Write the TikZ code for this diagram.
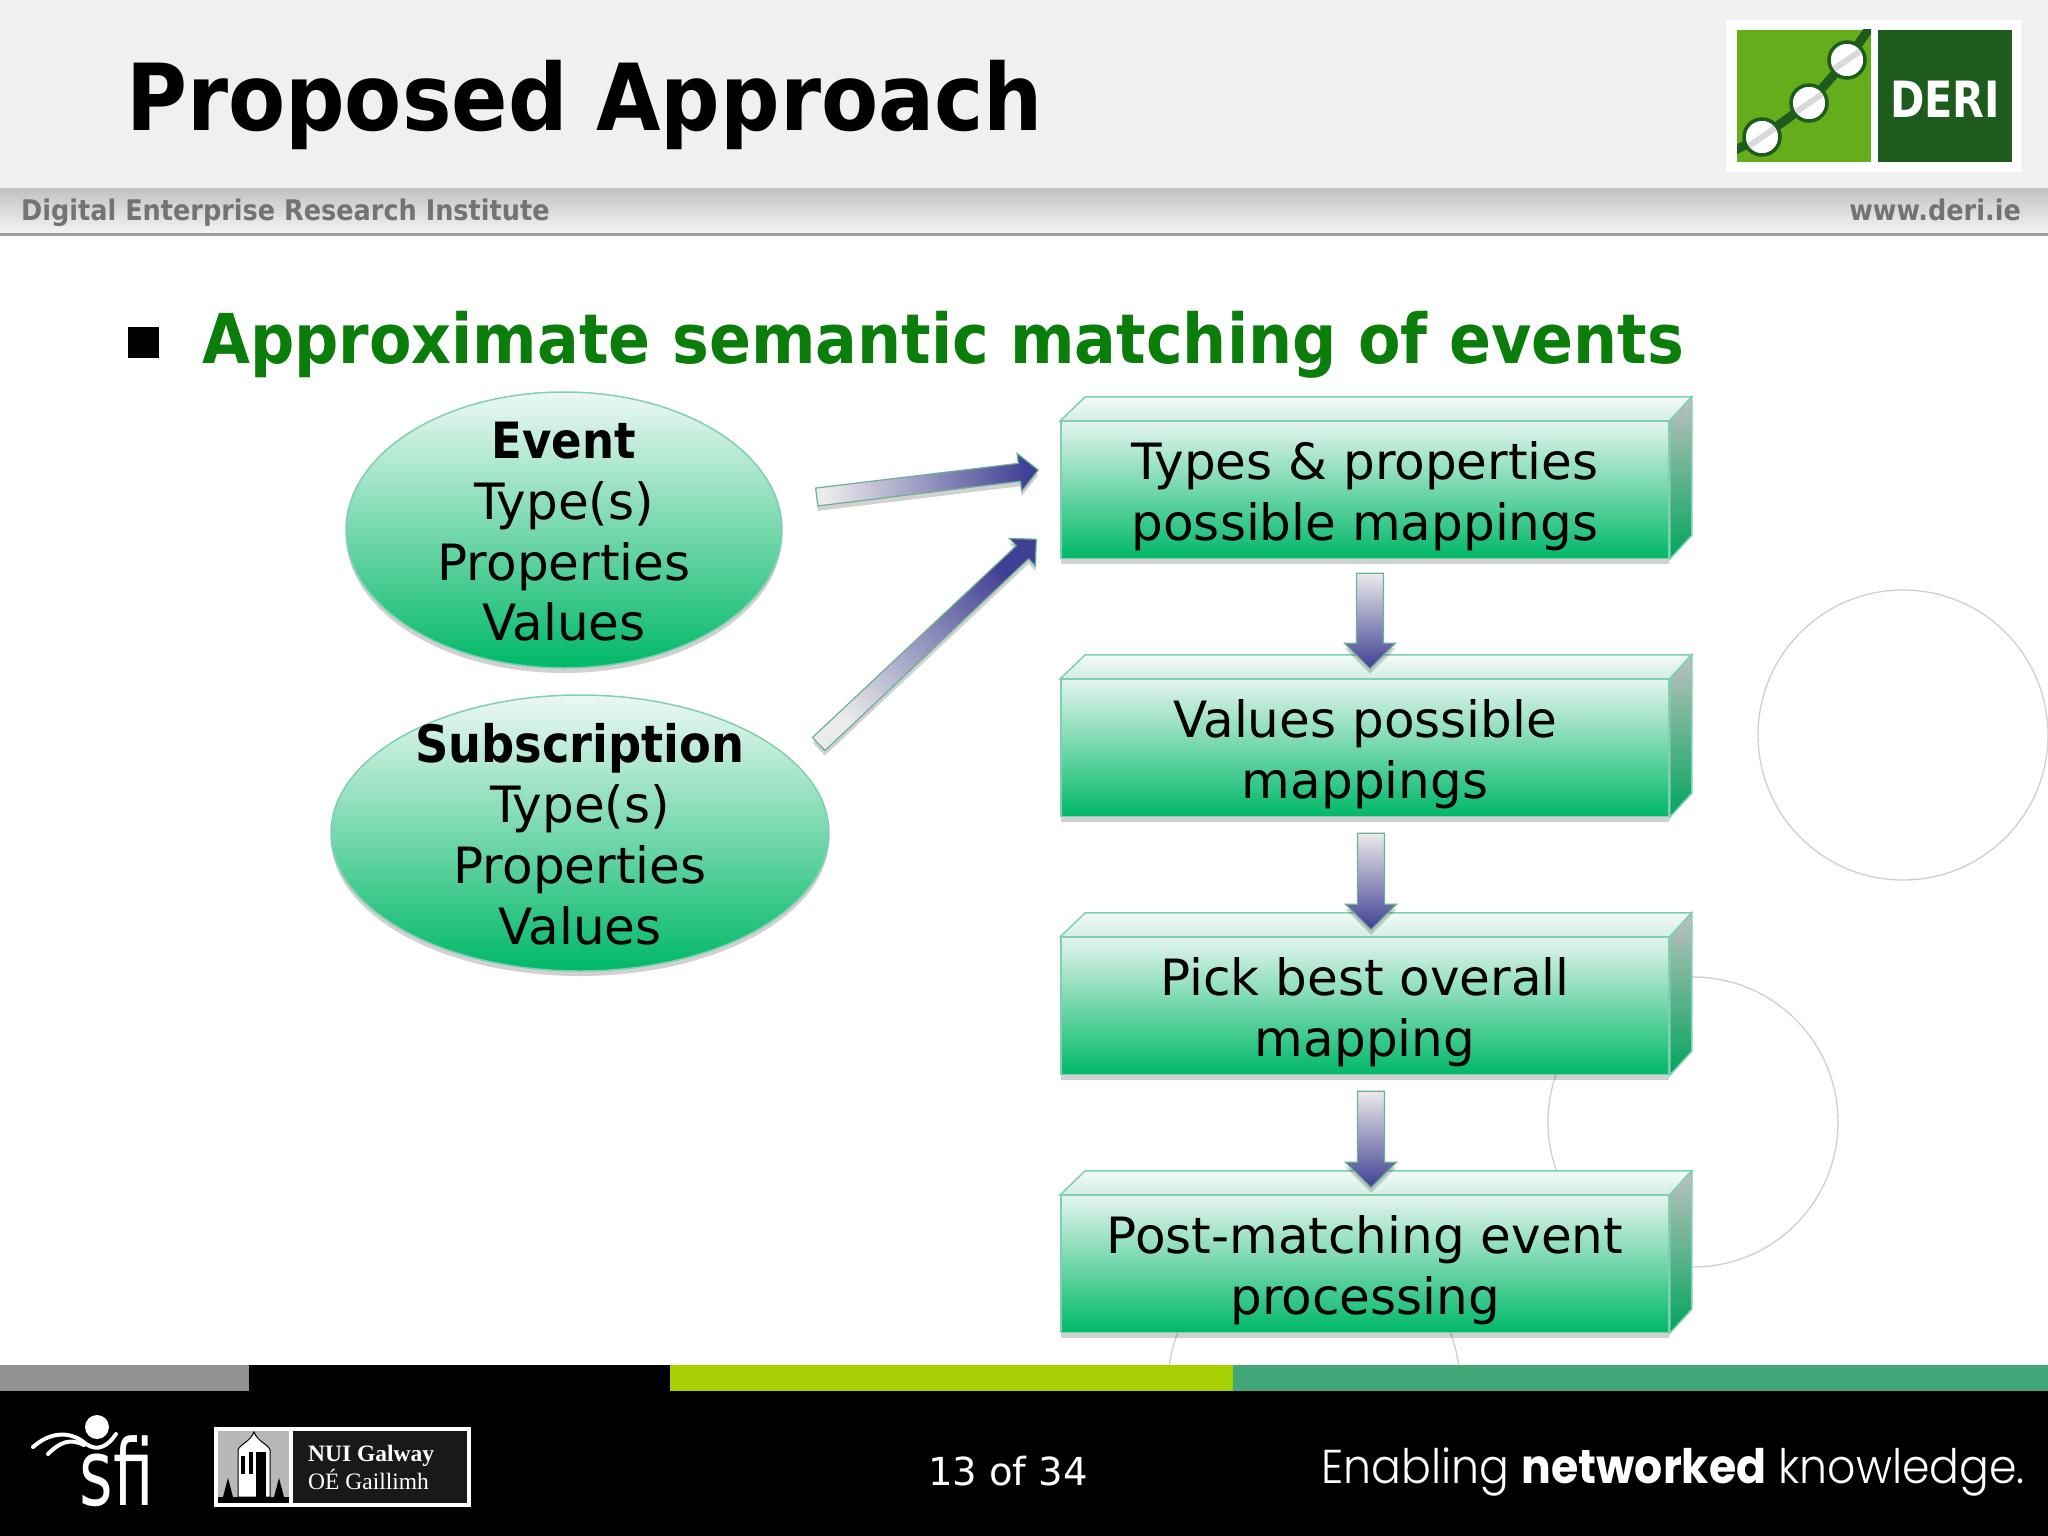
\documentclass[tikz,border=0pt]{standalone}
\usepackage{fontspec}
\setmainfont{DejaVu Sans Condensed}
\newfontfamily\bodyname{DejaVu Sans}
\newfontfamily\serifname{Liberation Serif}
\newfontfamily\futura[BoldFont={Poppins Bold}, FakeStretch=.93]{Poppins Light}
\usetikzlibrary{calc, shapes.geometric, shadows}

\definecolor{edgegreen}{HTML}{7FD0B0}
\definecolor{midgreen}{HTML}{6CCBA0}
\definecolor{darkgreen}{HTML}{00B868}
\definecolor{headgreen}{HTML}{0A7D0A}
\definecolor{navy}{HTML}{3F3F94}
\definecolor{ringgray}{HTML}{CFCFCF}
\definecolor{logolime}{RGB}{102,173,28}
\definecolor{logodark}{RGB}{30,92,30}
\definecolor{barlime}{RGB}{168,208,0}
\definecolor{barteal}{RGB}{65,167,120}

\tikzset{
  softshadow/.style={drop shadow={shadow xshift=0pt, shadow yshift=-5pt, opacity=.18, fill=black}},
  stepbox/.style={rectangle, draw=edgegreen, line width=1.5pt, minimum width=608pt, minimum height=137pt, inner sep=0pt,
    top color=white!78!edgegreen, middle color=midgreen, bottom color=darkgreen, softshadow},
  steptext/.style={align=center, inner sep=0pt, font=\fontsize{50}{60.5}\selectfont\bodyname},
  inputblob/.style={ellipse, draw=edgegreen, line width=1.5pt, inner sep=0pt, minimum height=276pt,
    top color=white!85!edgegreen, middle color=midgreen!90!white, bottom color=darkgreen, softshadow},
  blobtext/.style={align=center, inner sep=0pt, font=\fontsize{50}{60.7}\selectfont\bodyname},
  topface/.style={draw=edgegreen, line width=1.5pt, top color=white!90!edgegreen, bottom color=white!65!edgegreen},
  sideface/.style={draw=edgegreen, line width=1.5pt, top color=black!25!white, bottom color=darkgreen!90!black},
  fatarrow/.style={draw=edgegreen!85!black, line width=1.2pt, top color=black!8!white, bottom color=navy, softshadow},
  ring/.style={draw=ringgray, line width=1.3pt}
}

% from, to, shading angle, half shaft, head size
\newcommand{\fatarrow}[5]{
  \coordinate (neck) at ($(#2)!#5pt!(#1)$);
  \path[fatarrow, shading angle=#3] ($(#1)!#4pt!90:(neck)$) -- ($(neck)!#4pt!-90:(#1)$) -- ($(neck)!#5pt!-90:(#1)$) -- (#2)
    -- ($(neck)!#5pt!90:(#1)$) -- ($(neck)!#4pt!90:(#1)$) -- ($(#1)!#4pt!-90:(neck)$) -- cycle;
}
% box with top and side faces
\newcommand{\bevelbox}[3]{
  \node[stepbox] (#1) at (#2) {};
  \path[topface] (#1.north west) -- ++(25,-24) -- ($(#1.north east)+(22,-24)$) -- (#1.north east) -- cycle;
  \path[sideface] (#1.north east) -- ++(22,-24) -- ($(#1.south east)+(22,-24)$) -- (#1.south east) -- cycle;
  \node[steptext] (#1text) at ($(#1)+(0,6)$) {#3};
}

\begin{document}
\begin{tikzpicture}[x=1pt, y=-1pt]
  \useasboundingbox (0,0) rectangle (2048,1536);
  \fill[white] (0,0) rectangle (2048,1536);

  % header
  \fill[black!6] (0,0) rectangle (2048,188);
  \shade[top color=black!24, bottom color=black!5] (0,188) rectangle (2048,232);
  \fill[black!38] (0,233) rectangle (2048,236);
  \node[anchor=base west, inner sep=0pt, font=\fontsize{92.5}{92.5}\selectfont\bfseries] (title) at (126,131) {Proposed Approach};
  \node[anchor=base west, inner sep=0pt, text=black!55, font=\fontsize{28.4}{28.4}\selectfont\bfseries] (institute) at (21,220) {Digital Enterprise Research Institute};
  \node[anchor=base east, inner sep=0pt, text=black!55, font=\fontsize{28.4}{28.4}\selectfont\bfseries] (website) at (2021,220) {www.deri.ie};

  % logo
  \fill[white] (1726,20) rectangle (2021,172);
  \fill[logolime] (1737,30) rectangle (1871,162);
  \fill[logodark] (1878,30) rectangle (2012,162);
  \begin{scope}
    \clip (1737,30) rectangle (1871,162);
    \draw[logodark, line width=9pt] (1735,150) -- (1762,137) -- (1809,103) -- (1847,60) -- (1871,26);
  \end{scope}
  \foreach \cx/\cy in {1762/137, 1809/103, 1847/60}{
    \fill[white, draw=logodark, line width=3.5pt] (\cx,\cy) circle (18);
    \draw[black!15, line width=6pt] (\cx-13,\cy+9) -- (\cx+13,\cy-9);
  }
  \node[text=white, inner sep=0pt, font=\fontsize{50}{50}\selectfont\bfseries] (deri) at (1945,99) {\scalebox{.92}[1]{DERI}};

  % rings behind the boxes
  \draw[ring] (1903,735) circle (145);
  \draw[ring] (1693,1122) circle (145);
  \begin{scope}
    \clip (1100,1200) rectangle (1500,1365);
    \draw[ring] (1314,1385) circle (146);
  \end{scope}

  % heading
  \fill[black] (128,327) rectangle (159,358);
  \node[anchor=base west, inner sep=0pt, text=headgreen, font=\fontsize{68.8}{68.8}\selectfont\bfseries] (heading) at (202,363) {Approximate semantic matching of events};

  % inputs
  \node[inputblob, minimum width=436pt] (event) at (564,530) {};
  \node[blobtext] (eventtext) at ($(event)+(0,2)$) {{\rmfamily\bfseries Event}\\Type(s)\\Properties\\Values};
  \node[inputblob, minimum width=498pt] (subscr) at (580,833) {};
  \node[blobtext] (subscrtext) at ($(subscr)+(0,1)$) {{\rmfamily\bfseries\fontsize{51.5}{60.7}\selectfont Subscription}\\Type(s)\\Properties\\Values};

  % steps
  \bevelbox{types}{1365,490}{Types \& properties\\possible mappings}
  \bevelbox{valmap}{1365,748}{Values possible\\mappings}
  \bevelbox{pick}{1365,1006}{Pick best overall\\mapping}
  \bevelbox{post}{1365,1264}{Post-matching event\\processing}

  % arrows
  \coordinate (eventOut) at ($(event.east)+(34,-33)$);
  \coordinate (typesIn) at ($(types.west)+(-22,-20)$);
  \coordinate (subscrOut) at ($(subscr.east)+(-11,-89)$);
  \coordinate (typesLow) at ($(types.south west)+(-24,-20)$);
  \fatarrow{eventOut}{typesIn}{97}{9}{19}
  \fatarrow{subscrOut}{typesLow}{135}{9}{19}
  \coordinate (t1) at ($(types.south)+(5,14)$);
  \coordinate (v1) at ($(valmap.north)+(5,-10)$);
  \coordinate (v2) at ($(valmap.south)+(6,16)$);
  \coordinate (p1) at ($(pick.north)+(6,-7)$);
  \coordinate (p2) at ($(pick.south)+(6,16)$);
  \coordinate (q1) at ($(post.north)+(6,-7)$);
  \fatarrow{t1}{v1}{0}{13.5}{25.5}
  \fatarrow{v2}{p1}{0}{13.5}{25.5}
  \fatarrow{p2}{q1}{0}{13.5}{25.5}

  % footer
  \fill[black] (0,1365) rectangle (2048,1536);
  \fill[black!43] (0,1365) rectangle (249,1391);
  \fill[barlime] (670,1365) rectangle (1233,1391);
  \fill[barteal] (1233,1365) rectangle (2048,1391);
  \node[anchor=base, inner sep=0pt, text=white, font=\fontsize{38.6}{38.6}\selectfont\bodyname] (pagenum) at (1008,1485) {13 of 34};
  \node[anchor=base east, inner sep=0pt, text=white, font=\fontsize{47.5}{47.5}\selectfont\futura] (slogan) at (2025,1483) {Enabling \textbf{networked} knowledge.};

  % sfi
  \fill[white] (97,1427) circle (12);
  \draw[white, line width=4pt, line cap=round] (33,1447) .. controls (50,1432) and (70,1430) .. (86,1444) .. controls (98,1452) and (108,1446) .. (116,1434);
  \draw[white, line width=4pt, line cap=round] (48,1454) .. controls (60,1442) and (70,1438) .. (84,1445);
  \node[anchor=base, inner sep=0pt, text=white, font=\fontsize{92}{92}\selectfont] (sfi) at (117,1505) {\scalebox{.78}[1]{sfi}};

  % NUI Galway
  \fill[white] (214,1427) rectangle (471,1507);
  \fill[black!28] (218,1431) rectangle (289,1503);
  \fill[black!90] (293,1431) rectangle (467,1503);
  \fill[white, draw=black, line width=1pt] (238,1497) -- (238,1450) .. controls (240,1444) and (250,1442) .. (254,1432) .. controls (258,1442) and (268,1444) .. (270,1450) -- (270,1497) -- cycle;
  \fill[black] (256,1452) rectangle (266,1497);
  \fill[black] (241,1456) rectangle (245,1474);
  \fill[black] (249,1452) rectangle (253,1474);
  \fill[black] (218,1497) rectangle (289,1503);
  \fill[black] (223,1497) -- (228,1478) -- (233,1497) -- cycle;
  \fill[black] (274,1497) -- (279,1478) -- (284,1497) -- cycle;
  \node[anchor=base west, inner sep=0pt, text=white, font=\fontsize{23.5}{24}\selectfont\serifname\bfseries] (nui) at (308,1461) {NUI Galway};
  \node[anchor=base west, inner sep=0pt, text=white, font=\fontsize{23.5}{24}\selectfont\serifname] (oe) at (308,1489) {OÉ Gaillimh};
\end{tikzpicture}
\end{document}
